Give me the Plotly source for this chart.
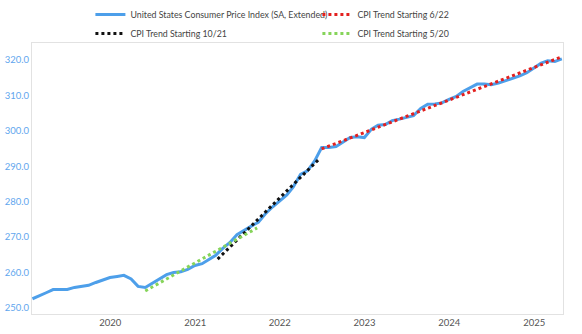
import pandas as pd
import plotly.graph_objects as go

# Monthly CPI (SA), Jan 2019 - Apr 2025, plotted at month end
cpi_start = "2019-01-31"
cpi_values = [
    252.6, 253.3, 254.3, 255.2, 255.3, 255.2, 255.8, 256.0, 256.4, 257.2, 257.9, 258.6,
    258.9, 259.2, 258.2, 256.1, 255.8, 257.0, 258.4, 259.4, 260.0, 260.2, 260.9, 262.0,
    262.5, 263.6, 264.9, 266.8, 268.5, 270.7, 272.0, 273.1, 274.2, 276.6, 278.5, 280.1,
    281.9, 284.2, 287.7, 288.7, 291.5, 295.3, 295.3, 295.6, 296.8, 298.1, 298.3, 298.1,
    300.5, 301.6, 301.8, 302.9, 303.3, 303.8, 304.3, 306.3, 307.5, 307.6, 307.9, 308.9,
    309.7, 311.1, 312.2, 313.2, 313.2, 313.0, 313.5, 314.1, 314.7, 315.5, 316.4, 317.7,
    319.1, 319.8, 319.6, 320.3,
]
cpi_dates = pd.date_range(cpi_start, periods=len(cpi_values), freq="ME")

trend_622_dates = ["2022-06-30", "2025-04-30"]
trend_622_values = [294.9, 320.9]

trend_1021_dates = ["2021-04-08", "2022-06-20"]
trend_1021_values = [263.8, 292.1]

trend_520_dates = ["2020-05-31", "2021-09-25"]
trend_520_values = [254.8, 272.6]

y_ticks = [250, 260, 270, 280, 290, 300, 310, 320]

FONT = "Lato"

fig = go.Figure()
fig.add_trace(go.Scatter(
    x=cpi_dates, y=cpi_values, mode="lines",
    name="United States Consumer Price Index (SA, Extended)",
    line=dict(color="#4d9fea", width=3),
))
fig.add_trace(go.Scatter(
    x=trend_622_dates, y=trend_622_values, mode="lines",
    name="CPI Trend Starting 6/22",
    line=dict(color="#e3201f", width=3, dash="dot"),
))
fig.add_trace(go.Scatter(
    x=trend_1021_dates, y=trend_1021_values, mode="lines",
    name="CPI Trend Starting 10/21",
    line=dict(color="#111111", width=3, dash="dot"),
))
fig.add_trace(go.Scatter(
    x=trend_520_dates, y=trend_520_values, mode="lines",
    name="CPI Trend Starting 5/20",
    line=dict(color="#86d45a", width=3, dash="dot"),
))

fig.update_layout(
    width=582, height=334,
    margin=dict(l=32, r=19, t=43, b=20, autoexpand=False),
    paper_bgcolor="white", plot_bgcolor="white",
    font=dict(family=FONT, size=9, color="#444"),
    showlegend=True,
    legend=dict(
        orientation="h", x=0.11, xanchor="left",
        yref="container", y=1.0, yanchor="top",
        entrywidth=182, entrywidthmode="pixels",
        font=dict(family=FONT, size=8.8, color="#444"),
        tracegroupgap=0, itemwidth=30,
        bgcolor="rgba(0,0,0,0)",
    ),
    xaxis=dict(
        range=["2019-01-29", "2025-05-05"],
        tickmode="linear", tick0="2020-01-01", dtick="M12", tickformat="%Y",
        showgrid=False, zeroline=False,
        showline=True, linecolor="#e2e2e2", linewidth=1, mirror=True,
        ticks="", tickfont=dict(family=FONT, size=9.5, color="#555"),
    ),
    yaxis=dict(
        range=[248.3, 324.8],
        tickmode="array", tickvals=y_ticks,
        ticktext=[f"{v:.1f}" for v in y_ticks],
        showgrid=False, zeroline=False,
        showline=True, linecolor="#e2e2e2", linewidth=1, mirror=True,
        ticks="", tickfont=dict(family=FONT, size=9.5, color="#5fa6ee"),
    ),
)

fig.write_html("out.html")
